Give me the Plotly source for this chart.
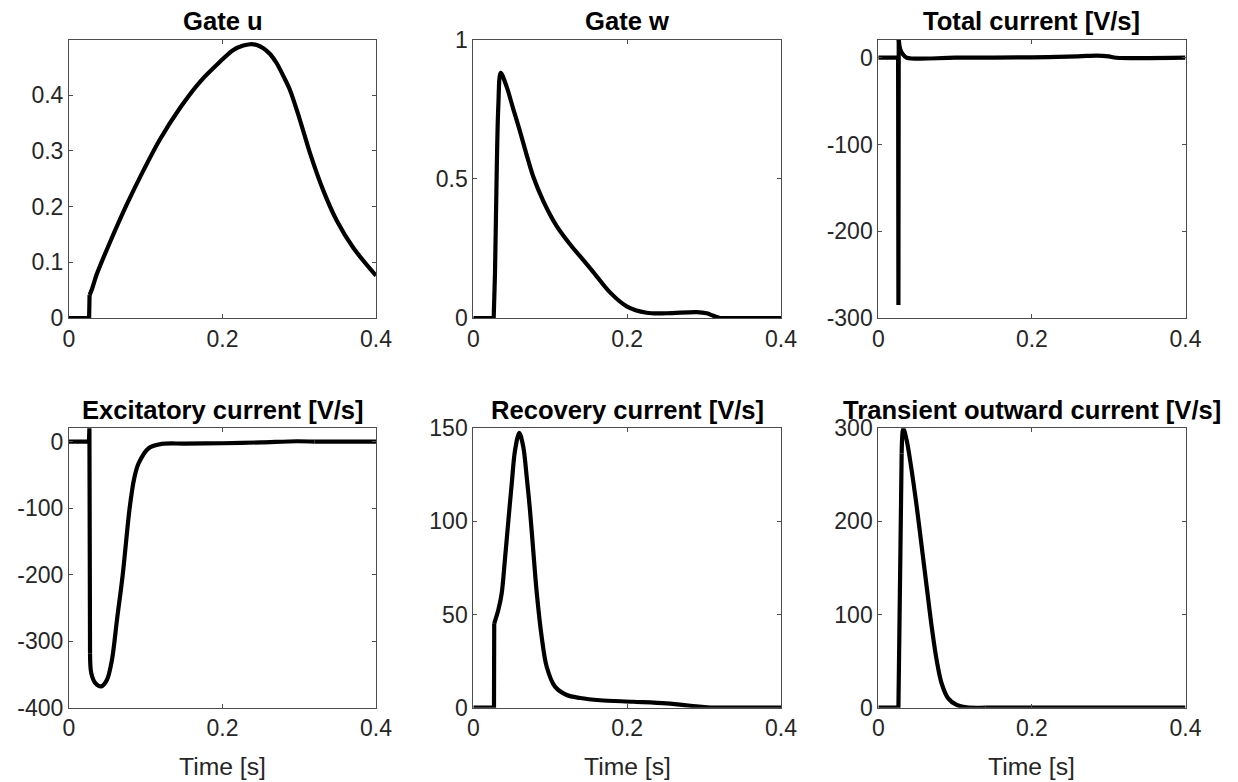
import plotly.graph_objects as go

# ---------------- data ----------------
t_gate_u = [0, 0.0262, 0.0268, 0.030, 0.036, 0.0534, 0.075, 0.097, 0.1186, 0.1446,
            0.1707, 0.1967, 0.2141, 0.2271, 0.2358, 0.2446, 0.2532, 0.2619, 0.2706,
            0.2792, 0.288, 0.301, 0.314, 0.331, 0.3488, 0.3704, 0.4]
gate_u = [0, 0, 0.041, 0.052, 0.078, 0.136, 0.203, 0.265, 0.321, 0.377,
          0.424, 0.460, 0.4813, 0.4891, 0.4915, 0.4903, 0.4843, 0.474, 0.4574,
          0.4346, 0.409, 0.355, 0.296, 0.230, 0.175, 0.126, 0.076]

t_gate_w = [0, 0.0265, 0.0282, 0.0304, 0.0325, 0.0356, 0.0434, 0.052, 0.0607, 0.0694,
            0.078, 0.091, 0.1084, 0.1257, 0.1387, 0.156, 0.1777, 0.1994, 0.2254,
            0.2514, 0.2904, 0.3034, 0.312, 0.3207, 0.4]
gate_w = [0, 0, 0.16, 0.52, 0.759, 0.88, 0.83, 0.75, 0.67, 0.585,
          0.507, 0.42, 0.33, 0.265, 0.222, 0.165, 0.092, 0.042, 0.019,
          0.017, 0.021, 0.017, 0.008, 0, 0]

t_total = [0, 0.0258, 0.0262, 0.0266, 0.0285, 0.032, 0.037, 0.10, 0.20, 0.26,
           0.285, 0.30, 0.31, 0.4]
total = [0, 0, -285, 21, 10, 4, 0, 0, 0.5, 1.5, 2.5, 1.5, 0, 0]

t_exc = [0, 0.026, 0.0266, 0.0274, 0.0290, 0.0343, 0.0421, 0.0495, 0.0560, 0.0625,
         0.0700, 0.0790, 0.0850, 0.0908, 0.1038, 0.1210, 0.15, 0.20, 0.25,
         0.2967, 0.32, 0.4]
excitatory = [0, 0, 21, -318, -348, -363, -368, -358, -328, -268,
              -200, -100, -55, -32.5, -10, -3.5, -3, -2.5, -1.2,
              0.5, 0, 0]

t_rec = [0, 0.0269, 0.0272, 0.0325, 0.0369, 0.0412, 0.0455, 0.0499, 0.0542, 0.0598,
         0.065, 0.0694, 0.0737, 0.078, 0.0824, 0.0889, 0.0954, 0.1062, 0.1214,
         0.1387, 0.1647, 0.208, 0.2514, 0.286, 0.3077, 0.4]
recovery = [0, 0, 45.3, 52.5, 61.4, 80, 100, 120, 138, 147.6,
            140, 124, 106, 84, 62, 38, 22, 11.3, 6.8,
            5.2, 4, 3.2, 2.3, 0.9, 0, 0]

t_tr = [0, 0.0262, 0.0304, 0.0325, 0.037, 0.0434, 0.05, 0.0565, 0.063, 0.0695,
        0.076, 0.0825, 0.091, 0.102, 0.115, 0.14, 0.4]
transient = [0, 0, 273, 300, 287, 255, 216, 173, 130, 87,
             51, 26, 10, 3, 0.5, 0, 0]

titles = ["Gate u", "Gate w", "Total current [V/s]",
          "Excitatory current [V/s]", "Recovery current [V/s]",
          "Transient outward current [V/s]"]
series = [(t_gate_u, gate_u), (t_gate_w, gate_w), (t_total, total),
          (t_exc, excitatory), (t_rec, recovery), (t_tr, transient)]
y_ranges = [[0, 0.5], [0, 1], [-300, 21], [-400, 20], [0, 150], [0, 300]]
y_ticks = [[0, 0.1, 0.2, 0.3, 0.4], [0, 0.5, 1], [-300, -200, -100, 0],
           [-400, -300, -200, -100, 0], [0, 50, 100, 150], [0, 100, 200, 300]]
y_ticktext = [["0", "0.1", "0.2", "0.3", "0.4"], ["0", "0.5", "1"],
              ["-300", "-200", "-100", "0"], ["-400", "-300", "-200", "-100", "0"],
              ["0", "50", "100", "150"], ["0", "100", "200", "300"]]
x_ticks = [0, 0.2, 0.4]
x_ticktext = ["0", "0.2", "0.4"]
x_label = "Time [s]"

# index ranges drawn as smooth curves (the rest: straight segments, e.g. jumps)
smooth_spans = [(2, 26), (1, 23), (3, 13), (3, 20), (2, 24), (2, 15)]

# ---------------- layout geometry ----------------
W, H = 1238, 782
col_px = [(69, 376), (473.3, 781), (878.3, 1185.5)]
row_px = [(39.5, 318), (428.3, 707.7)]

FONT = "Liberation Sans, Arial, Helvetica, sans-serif"
AXC = "#4d4d4d"
TXC = "#262626"

fig = go.Figure()
layout = dict(
    width=W, height=H, margin=dict(l=0, r=0, t=0, b=0, pad=0), autosize=False,
    paper_bgcolor="white", plot_bgcolor="white", showlegend=False,
    font=dict(family=FONT, size=23, color=TXC),
)
annotations = []
for i, (tx, ty) in enumerate(series):
    r, c = divmod(i, 3)
    n = i + 1
    xa = "x" if n == 1 else f"x{n}"
    ya = "y" if n == 1 else f"y{n}"
    a, b = smooth_spans[i]
    pieces = [(0, a, "linear"), (a, b, "spline"), (b, len(tx) - 1, "linear")]
    for s, e, shape in pieces:
        if e <= s:
            continue
        fig.add_trace(go.Scatter(x=tx[s:e + 1], y=ty[s:e + 1], mode="lines",
                                 xaxis=xa, yaxis=ya, hoverinfo="skip",
                                 line=dict(color="black", width=4.2, shape=shape,
                                           smoothing=0.9)))
    x0, x1 = col_px[c]
    y0, y1 = row_px[r]
    common = dict(showline=True, mirror="ticks", linecolor=AXC, linewidth=1,
                  ticks="inside", ticklen=4, tickwidth=1, tickcolor=AXC,
                  showgrid=False, zeroline=False, automargin=False,
                  tickfont=dict(family=FONT, size=23, color=TXC))
    xkey = "xaxis" if n == 1 else f"xaxis{n}"
    ykey = "yaxis" if n == 1 else f"yaxis{n}"
    layout[xkey] = dict(common, domain=[x0 / W, x1 / W], range=[0, 0.4],
                        tickvals=x_ticks, ticktext=x_ticktext, anchor=ya)
    layout[ykey] = dict(common, domain=[1 - y1 / H, 1 - y0 / H], range=y_ranges[i],
                        tickvals=y_ticks[i], ticktext=y_ticktext[i], anchor=xa)
    title_y = 21 if r == 0 else 410
    annotations.append(dict(text=f"<b>{titles[i]}</b>", x=(x0 + x1) / 2 / W,
                            y=1 - title_y / H, xref="paper", yref="paper",
                            xanchor="center", yanchor="middle", showarrow=False,
                            font=dict(family=FONT, size=25.6, color="black")))
    if r == 1:
        annotations.append(dict(text=x_label, x=(x0 + x1) / 2 / W,
                                y=1 - 766.5 / H, xref="paper", yref="paper",
                                xanchor="center", yanchor="middle", showarrow=False,
                                font=dict(family=FONT, size=24.7, color=TXC)))
layout["annotations"] = annotations
fig.update_layout(**layout)
fig.write_html("out.html", config={"displayModeBar": False},
               post_script="document.body.style.margin='0';document.body.style.overflow='hidden';")
